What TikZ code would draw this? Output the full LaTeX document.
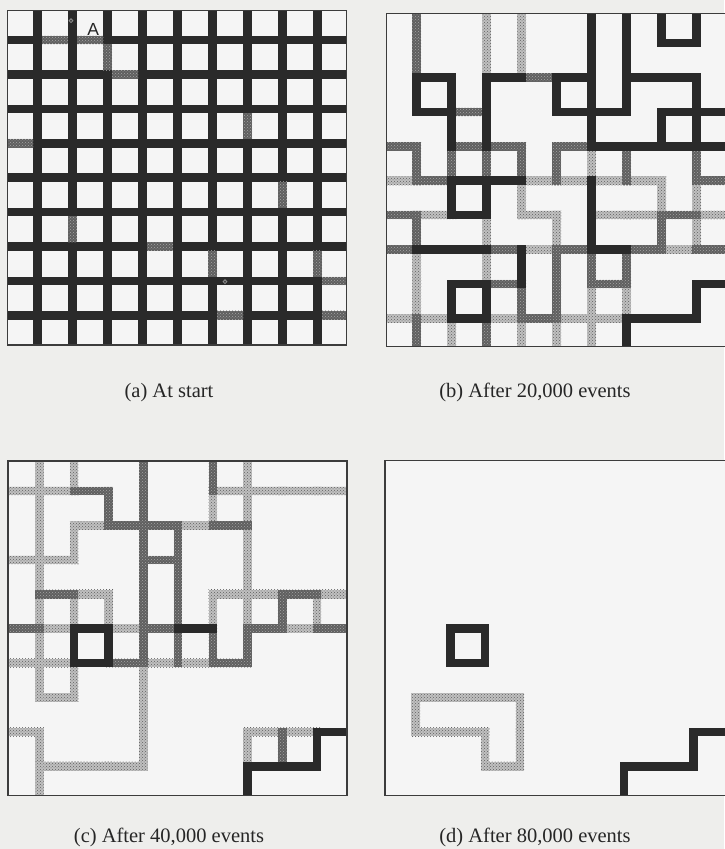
\documentclass[tikz,border=0pt]{standalone}
\usepackage{fontspec}
\usetikzlibrary{patterns}
\setmainfont{Liberation Serif}
\newfontfamily\labelsans{Liberation Sans}
\definecolor{bg}{RGB}{238,238,236}
\definecolor{dk}{RGB}{42,42,42}
\definecolor{md}{RGB}{95,95,95}
\definecolor{mddot}{RGB}{165,165,165}
\definecolor{lt}{RGB}{192,192,192}
\definecolor{ltdot}{RGB}{95,95,95}
\definecolor{bd}{RGB}{60,60,60}
\newcommand\setpanel[4]{\def\ox{#1}\def\oy{#2}\def\sx{#3}\def\sy{#4}}
\def\hw{4.3}
% bonds as rectangles (node-to-node, with square ends)
\newcommand\hbonds[2]{\foreach \i/\j in {#2} \fill[#1] ({\ox+\sx*\i-\hw},{\oy+\sy*\j-\hw}) rectangle ({\ox+\sx*(\i+1)+\hw},{\oy+\sy*\j+\hw});}
\newcommand\vbonds[2]{\foreach \i/\j in {#2} \fill[#1] ({\ox+\sx*\i-\hw},{\oy+\sy*\j-\hw}) rectangle ({\ox+\sx*\i+\hw},{\oy+\sy*(\j+1)+\hw});}
% inner parts only (between crossings)
\newcommand\hinner[2]{\foreach \i/\j in {#2} \fill[#1] ({\ox+\sx*\i+\hw},{\oy+\sy*\j-\hw}) rectangle ({\ox+\sx*(\i+1)-\hw},{\oy+\sy*\j+\hw});}
\newcommand\vinner[2]{\foreach \i/\j in {#2} \fill[#1] ({\ox+\sx*\i-\hw},{\oy+\sy*\j+\hw}) rectangle ({\ox+\sx*\i+\hw},{\oy+\sy*(\j+1)-\hw});}
\tikzset{
  bD/.style={fill=dk},
  bM/.style={fill=md, postaction={pattern=crosshatch dots, pattern color=mddot}},
  bL/.style={fill=lt, postaction={pattern=crosshatch dots, pattern color=ltdot}},
  panelframe/.style={draw=bd, line width=1.1pt},
  paneltint/.style={fill=white!96!black},
  captext/.style={font=\fontsize{20.5}{24}\selectfont, inner sep=0pt, anchor=base, text=black!85},
  dotmark/.style={draw=black!45, fill=black!75, line width=0.8pt}
}
\begin{document}
\begin{tikzpicture}[x=1pt, y=-1pt]
\useasboundingbox (0,0) rectangle (724,849);
\fill[bg] (0,0) rectangle (724,849);

% ---------- panel (a)
\begin{scope}
\clip (7.3,10.7) rectangle (346.7,345);
\fill[paneltint] (7.3,10.7) rectangle (346.7,345);
\setpanel{2.7}{5.6}{35}{34.4}
\foreach \k in {1,...,9} {
  \fill[bD] ({\ox+\sx*\k-\hw},0) rectangle ({\ox+\sx*\k+\hw},360);
  \fill[bD] (0,{\oy+\sy*\k-\hw}) rectangle (360,{\oy+\sy*\k+\hw});
}
\hinner{bM}{1/1,2/1,3/2,0/4,4/7,9/8,6/9,9/9}
\vinner{bM}{3/1,7/3,8/5,2/6,6/7,9/7}
\end{scope}
\draw[panelframe] (7.3,10.7) rectangle (346.7,345);
\node[font=\labelsans\fontsize{17.5}{18}\selectfont, inner sep=0pt, text=black!85] (lblA) at (93.3,29.8) {A};
\draw[dotmark] (71,20.7) circle (1.9);
\draw[dotmark] (225,281.7) circle (1.9);

% ---------- panel (b)
\begin{scope}
\clip (386.7,13.3) rectangle (726,346.7);
\fill[paneltint] (386.7,13.3) rectangle (726,346.7);
\setpanel{381.7}{8.7}{35}{34.4}
\hbonds{bL}{0/5,4/5,5/5,6/5,7/5,1/6,4/6,6/6,7/6,9/6,4/7,8/7,0/9,1/9,3/9,5/9,6/9}
\vbonds{bL}{3/0,4/0,3/1,4/1,6/4,4/5,8/5,9/5,3/6,5/6,9/6,1/7,3/7,1/8,6/8,7/8,2/9,4/9,5/9,6/9}
\hbonds{bM}{4/2,2/3,0/4,2/4,3/4,5/4,1/5,9/5,0/6,8/6,0/7,3/7,5/7,7/7,9/7,3/8,6/8,4/9}
\vbonds{bM}{1/0,1/1,1/4,2/4,3/4,4/4,5/4,7/4,9/4,1/6,8/6,5/7,6/7,7/7,4/8,5/8,1/9,3/9}
\hbonds{bD}{8/1,1/2,3/2,5/2,7/2,8/2,1/3,5/3,6/3,8/3,9/3,6/4,7/4,8/4,9/4,2/5,3/5,2/6,1/7,2/7,6/7,2/8,9/8,2/9,7/9,8/9}
\vbonds{bD}{6/0,7/0,8/0,9/0,6/1,7/1,1/2,2/2,3/2,5/2,6/2,7/2,9/2,2/3,3/3,6/3,8/3,9/3,2/5,3/5,6/5,6/6,4/7,2/8,3/8,9/8,7/9}
\end{scope}
\draw[panelframe] (386.7,13.3) rectangle (728,346.7);

% ---------- panel (c)
\begin{scope}
\clip (8,461) rectangle (347,795.5);
\fill[paneltint] (8,461) rectangle (347,795.5);
\setpanel{4.6}{456.6}{34.7}{34.4}
\hbonds{bL}{0/1,1/1,6/1,7/1,8/1,9/1,2/2,5/2,0/3,1/3,2/4,6/4,7/4,9/4,1/5,3/5,8/5,0/6,1/6,4/6,5/6,1/7,0/8,7/8,8/8,1/9,2/9,3/9}
\vbonds{bL}{1/0,2/0,7/0,1/1,6/1,7/1,1/2,2/2,7/2,1/3,7/3,1/4,2/4,3/4,6/4,7/4,9/4,1/5,1/6,2/6,4/6,4/7,1/8,4/8,7/8,1/9}
\hbonds{bM}{2/1,3/2,4/2,6/2,4/3,1/4,8/4,0/5,4/5,7/5,9/5,3/6,6/6}
\vbonds{bM}{4/0,6/0,3/1,4/1,4/2,5/2,4/3,5/3,4/4,5/4,8/4,4/5,5/5,6/5,7/5,8/8}
\hbonds{bD}{2/5,5/5,2/6,9/8,7/9,8/9}
\vbonds{bD}{2/5,3/5,9/8,7/9}
\end{scope}
\draw[panelframe] (8,461) rectangle (347,795.5);

% ---------- panel (d)
\begin{scope}
\clip (385,460.5) rectangle (726,795.5);
\fill[paneltint] (385,460.5) rectangle (726,795.5);
\setpanel{381}{456.6}{34.7}{34.4}
\hbonds{bL}{1/7,2/7,3/7,1/8,2/8,3/9}
\vbonds{bL}{1/7,4/7,4/8,3/8}
\hbonds{bD}{2/5,2/6,9/8,7/9,8/9}
\vbonds{bD}{2/5,3/5,9/8,7/9}
\end{scope}
\draw[panelframe] (385,460.5) rectangle (728,795.5);

% ---------- captions
\node[captext] (capa) at (169,397) {(a) At start};
\node[captext] (capb) at (535,397) {(b) After 20,000 events};
\node[captext] (capc) at (169,842) {(c) After 40,000 events};
\node[captext] (capd) at (535,842) {(d) After 80,000 events};
\end{tikzpicture}
\end{document}
